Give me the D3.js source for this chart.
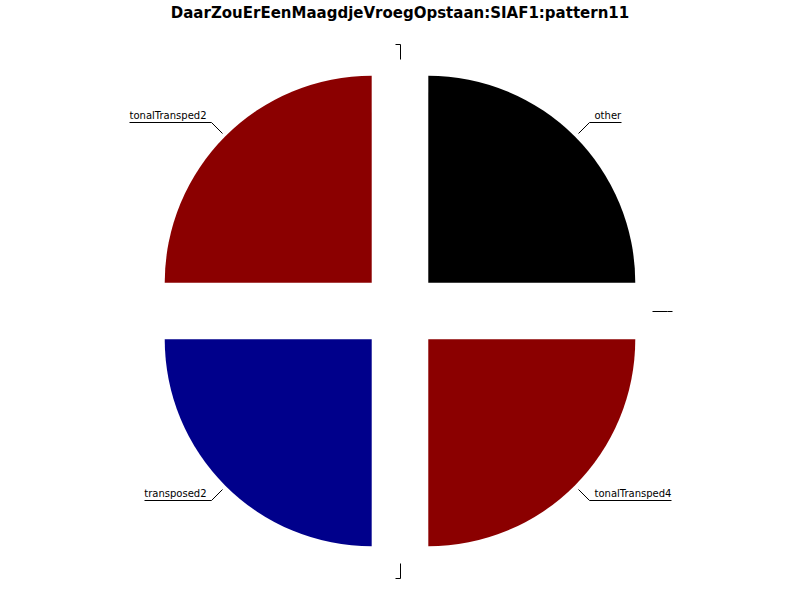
<!DOCTYPE html>
<html><head><meta charset="utf-8">
<script src="https://cdn.jsdelivr.net/npm/d3@7"></script>
<style>body{margin:0;background:#fff}svg{display:block}</style>
</head><body>
<svg id="c" width="800" height="600"></svg>
<script>
const title = "DaarZouErEenMaagdjeVroegOpstaan:SIAF1:pattern11";
const categories = ["other", "", "tonalTransped4", "", "transposed2", "tonalTransped2", ""];
const values = [1, 0, 1, 0, 1, 1, 0];
const colors = ["#000000", "#8B0000", "#8B0000", "#000080", "#00008B", "#8B0000", "#000000"];

const W = 800, H = 600, cx = 400, cy = 311, R = 207, explode = 40;
const svg = d3.select("#c");
svg.append("rect").attr("width", W).attr("height", H).attr("fill", "#fff");

svg.append("text").attr("x", 400).attr("y", 18).attr("text-anchor", "middle")
  .attr("font-family", "DejaVu Sans").attr("font-weight", "bold").attr("font-size", 15)
  .text(title);

const data = categories.map((c, i) => ({ name: c, value: values[i], color: colors[i] }));
const pie = d3.pie().value(d => d.value).sort(null);
const arcs = pie(data);
const arc = d3.arc().innerRadius(0).outerRadius(R);

const g = svg.append("g");
const px = v => Math.round(v) + 0.5;

arcs.forEach(a => {
  const mid = (a.startAngle + a.endAngle) / 2;
  const ox = cx + explode * Math.sin(mid), oy = cy - explode * Math.cos(mid);
  if (a.data.value > 0) {
    g.append("path").attr("transform", `translate(${ox},${oy})`).attr("d", arc(a)).attr("fill", a.data.color);
  }
  const left = mid > Math.PI - 1e-6;
  const p1 = [px(ox + (R + 5) * Math.sin(mid)), px(oy - (R + 5) * Math.cos(mid))];
  const p2 = [px(ox + (R + 20) * Math.sin(mid)), px(oy - (R + 20) * Math.cos(mid))];
  const t = g.append("text").attr("font-family", "DejaVu Sans").attr("font-size", 10)
    .attr("fill", "#000")
    .attr("text-anchor", left ? "end" : "start")
    .attr("x", left ? p2[0] - 5 : p2[0] + 5).attr("y", p2[1] - 3.5)
    .text(a.data.name);
  const tw = a.data.name ? Math.round(t.node().getComputedTextLength()) : 0;
  const p3 = [left ? p2[0] - 5 - tw : p2[0] + 5 + tw, p2[1]];
  g.append("path").attr("d", d3.line()([p1, p2, p3]))
    .attr("fill", "none").attr("stroke", "#000").attr("stroke-width", 1);
});
</script>
</body></html>
